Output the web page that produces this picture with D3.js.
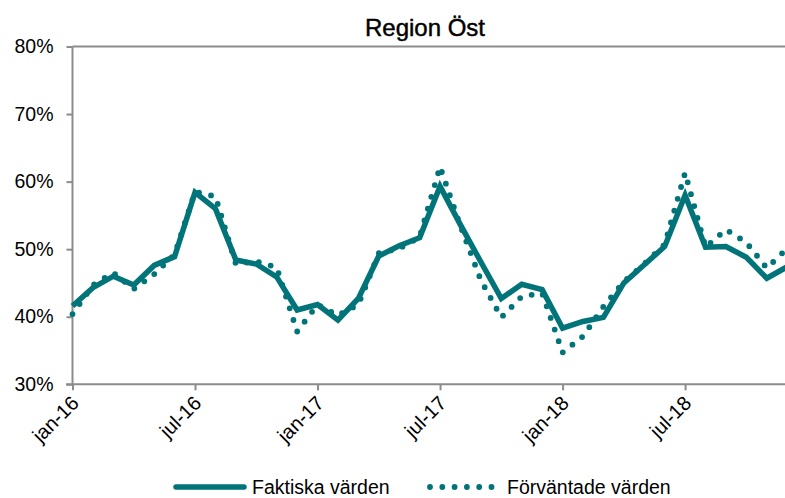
<!DOCTYPE html>
<html>
<head>
<meta charset="utf-8">
<script src="https://cdn.jsdelivr.net/npm/d3@7"></script>
<style>
  html, body { margin: 0; padding: 0; background: #fff; }
  svg { display: block; font-family: "Liberation Sans", Arial, sans-serif; }
</style>
</head>
<body>
<svg id="chart" width="785" height="498"></svg>
<script>
const months = ["jan-16","feb-16","mar-16","apr-16","maj-16","jun-16","jul-16","aug-16","sep-16","okt-16","nov-16","dec-16",
                "jan-17","feb-17","mar-17","apr-17","maj-17","jun-17","jul-17","aug-17","sep-17","okt-17","nov-17","dec-17",
                "jan-18","feb-18","mar-18","apr-18","maj-18","jun-18","jul-18","aug-18","sep-18","okt-18","nov-18","dec-18"];
const faktiska = [41.6,44.3,46.0,44.7,47.6,48.9,58.4,56.0,48.4,47.8,45.9,41.0,
                  41.8,39.5,42.7,49.0,50.5,51.7,59.3,53.6,48.1,42.7,44.8,44.0,
                  38.3,39.3,39.9,45.0,47.7,50.4,58.0,50.3,50.4,48.8,45.7,47.4];
const forvantade = [40.4,44.7,46.5,44.1,46.3,49.2,58.5,57.8,47.8,48.2,47.3,37.8,
                    41.8,40.2,41.8,49.4,50.1,51.8,62.2,53.4,45.4,39.9,43.0,43.5,
                    34.7,37.1,41.5,45.2,47.8,50.7,61.3,50.3,52.9,51.0,47.2,50.1];
const tickMonths = ["jan-16","jul-16","jan-17","jul-17","jan-18","jul-18"];
const yTicks = [30,40,50,60,70,80];
const title = "Region Öst";
const seriesNames = ["Faktiska värden","Förväntade värden"];

const color = "#007478";
const axisColor = "#8c8c8c";
const svg = d3.select("#chart");

const x = d3.scaleLinear().domain([0, months.length - 1]).range([72.5, 787.2]);
const y = d3.scaleLinear().domain([30, 80]).range([384.3, 46.5]);

// Title
svg.append("text").attr("x", 425).attr("y", 36).attr("text-anchor", "middle")
  .attr("font-size", 24).attr("fill", "#000")
  .attr("stroke", "#000").attr("stroke-width", 0.45).text(title);

// Y axis
const yAxis = d3.axisLeft(y).tickValues(yTicks).tickSize(6).tickPadding(13)
  .tickFormat(d => d + "%");
const gy = svg.append("g").attr("transform", "translate(72.5,0)").call(yAxis);
gy.select(".domain").remove();
gy.append("line").attr("x1", 0).attr("x2", 0).attr("y1", y(80)).attr("y2", y(30));
gy.selectAll("line").attr("stroke", axisColor).attr("stroke-width", 2);
gy.selectAll("text").attr("font-size", 19.5).attr("fill", "#000")
  .attr("font-family", "Liberation Sans, Arial, sans-serif");

// top border line at 80%
svg.append("line").attr("x1", 72.5).attr("x2", 785).attr("y1", y(80)).attr("y2", y(80))
  .attr("stroke", axisColor).attr("stroke-width", 2);

// X axis
const tickIdx = tickMonths.map(m => months.indexOf(m));
const xAxis = d3.axisBottom(x).tickValues(tickIdx).tickSize(6).tickFormat(i => months[i]);
const gx = svg.append("g").attr("transform", `translate(0,${y(30)})`).call(xAxis);
gx.select(".domain").remove();
gx.append("line").attr("x1", 66).attr("x2", 785).attr("y1", 0).attr("y2", 0);
gx.selectAll("line").attr("stroke", axisColor).attr("stroke-width", 2);
gx.selectAll("text").attr("font-size", 20).attr("fill", "#000")
  .attr("font-family", "Liberation Sans, Arial, sans-serif")
  .attr("text-anchor", "end").attr("dy", null).attr("y", 0)
  .attr("transform", "translate(7,20) rotate(-45)");

// Lines
const line = d3.line().x((d, i) => x(i)).y(d => y(d));
svg.append("path").datum(forvantade).attr("d", line).attr("fill", "none")
  .attr("stroke", color).attr("stroke-width", 5.8).attr("stroke-linecap", "round")
  .attr("stroke-dasharray", "0 12.3");
svg.append("path").datum(faktiska).attr("d", line).attr("fill", "none")
  .attr("stroke", color).attr("stroke-width", 5.5).attr("stroke-linejoin", "miter");

// Legend
const lg = svg.append("g");
lg.append("line").attr("x1", 176).attr("x2", 244).attr("y1", 487).attr("y2", 487)
  .attr("stroke", color).attr("stroke-width", 5.5).attr("stroke-linecap", "round");
lg.append("text").attr("x", 252).attr("y", 494).attr("font-size", 19.5).text(seriesNames[0]);
lg.append("line").attr("x1", 430).attr("x2", 492).attr("y1", 487).attr("y2", 487)
  .attr("stroke", color).attr("stroke-width", 5.8).attr("stroke-linecap", "round")
  .attr("stroke-dasharray", "0 12.3");
lg.append("text").attr("x", 507).attr("y", 494).attr("font-size", 19.5).text(seriesNames[1]);
</script>
</body>
</html>
